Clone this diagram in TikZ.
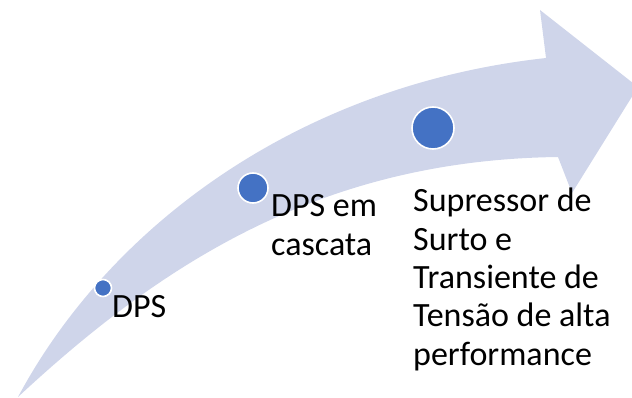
\documentclass[tikz,border=0pt]{standalone}
\usepackage{fontspec}
\setmainfont{Carlito}
\definecolor{arrowfill}{HTML}{CFD5EA}
\definecolor{dotblue}{HTML}{4472C4}
\tikzset{
  dot/.style={circle, fill=dotblue, draw=white, line width=1.6pt, inner sep=0pt},
  lbl/.style={anchor=base west, inner sep=0pt, align=left, font=\fontsize{34}{38.3}\selectfont, text=black}
}
\begin{document}
\begin{tikzpicture}[x=1pt,y=-1pt]
\useasboundingbox (0,0) rectangle (632,398);
\clip (0,0) rectangle (632,398);
% curved arrow
\fill[arrowfill] (18,397) .. controls (110,225) and (300,85) .. (546,58)
  -- (540,10) -- (638,87) -- (572,193) -- (558,157)
  .. controls (320,160) and (160,265) .. (18,397) -- cycle;
% dots
\node[dot, minimum size=17pt] (d1) at (103,288) {};
\node[dot, minimum size=30pt] (d2) at (253,188) {};
\node[dot, minimum size=42pt] (d3) at (433,128) {};
% labels (base anchor = baseline of the last line)
\node[lbl] (t1) at (112,317) {DPS};
\node[lbl] (t2) at (271,255) {DPS em\\cascata};
\node[lbl] (t3) at (413,365) {Supressor de\\Surto e\\Transiente de\\Tensão de alta\\performance};
\end{tikzpicture}
\end{document}
